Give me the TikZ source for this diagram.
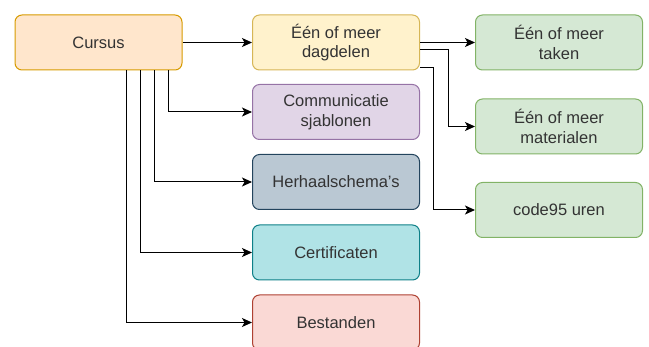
\documentclass[tikz,border=0pt]{standalone}
\usepackage{fontspec}
\setmainfont{Liberation Sans}
\usetikzlibrary{arrows.meta}

\definecolor{oranjeF}{HTML}{FFE6CC}\definecolor{oranjeD}{HTML}{D79B00}
\definecolor{geelF}{HTML}{FFF2CC}\definecolor{geelD}{HTML}{D6B656}
\definecolor{paarsF}{HTML}{E1D5E7}\definecolor{paarsD}{HTML}{9673A6}
\definecolor{grijsF}{HTML}{BAC8D3}\definecolor{grijsD}{HTML}{23445D}
\definecolor{tealF}{HTML}{B0E3E6}\definecolor{tealD}{HTML}{0E8088}
\definecolor{roodF}{HTML}{FAD9D5}\definecolor{roodD}{HTML}{AE4132}
\definecolor{groenF}{HTML}{D5E8D4}\definecolor{groenD}{HTML}{82B366}

\begin{document}
\begin{tikzpicture}[x=1pt,y=-1pt,>={Stealth[length=10pt,width=9pt,inset=2.5pt]}]
        \tikzstyle{blok}=[rectangle,rounded corners=7pt,line width=1pt,minimum width=167pt,minimum height=55pt,align=center,text=black!80,font=\fontsize{16.5}{19.5}\selectfont]
        \tikzstyle{edge}=[->,draw=black,line width=1pt]

        \useasboundingbox (0,0) rectangle (649,347);

         \node [blok,fill=oranjeF,draw=oranjeD] (cursus) at (98.5,42.5) {Cursus};
         \node [blok,fill=geelF,draw=geelD] (dagdelen) at (336,42.5) {Één of meer\\dagdelen};
         \node [blok,fill=paarsF,draw=paarsD] (sjablonen) at (336,112) {Communicatie\\sjablonen};
         \node [blok,fill=grijsF,draw=grijsD] (herhaal) at (336,182) {Herhaalschema's};
         \node [blok,fill=tealF,draw=tealD] (certificaten) at (336,252.5) {Certificaten};
         \node [blok,fill=roodF,draw=roodD] (bestanden) at (336,322.5) {Bestanden};
         \node [blok,fill=groenF,draw=groenD] (taken) at (559,42.5) {Één of meer\\taken};
         \node [blok,fill=groenF,draw=groenD] (materialen) at (559,126.5) {Één of meer\\materialen};
         \node [blok,fill=groenF,draw=groenD] (uren) at (559,210) {code95 uren};

 		\draw[edge] (cursus) -- (dagdelen);
 		\draw[edge] ([xshift=-14pt]cursus.south east) |- (sjablonen);
 		\draw[edge] ([xshift=-28pt]cursus.south east) |- (herhaal);
 		\draw[edge] ([xshift=-42pt]cursus.south east) |- (certificaten);
 		\draw[edge] ([xshift=-56pt]cursus.south east) |- (bestanden);

 		\draw[edge] (dagdelen) -- (taken);
 		\draw[edge] ([yshift=-7pt]dagdelen.east) -- ++(28,0) |- (materialen);
 		\draw[edge] ([yshift=-25pt]dagdelen.east) -- ++(13,0) |- (uren);
      \end{tikzpicture}
\end{document}
